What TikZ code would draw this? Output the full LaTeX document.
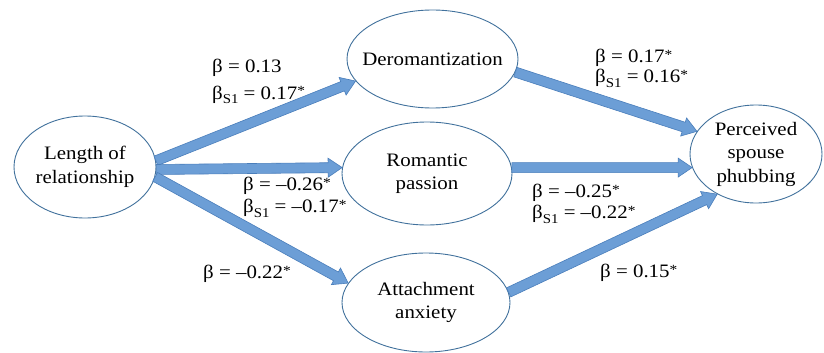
\documentclass[tikz,border=0pt]{standalone}
\usepackage{fontspec}
\setmainfont[FakeStretch=1.1]{Liberation Serif}
\usetikzlibrary{shapes.geometric,calc}
\definecolor{arrowfill}{HTML}{6C9ED6}
\definecolor{arrowline}{HTML}{4A7EBB}
\definecolor{ellline}{HTML}{41719C}
\tikzset{
  ell/.style={draw=ellline, line width=0.9pt, ellipse, inner sep=-20pt, align=center,
    font=\fontsize{19}{23.5}\selectfont},
  lbl/.style={anchor=base west, inner sep=0pt, font=\fontsize{19}{23}\selectfont},
  fatarrowstyle/.style={fill=arrowfill, draw=arrowline, line width=0.6pt, line join=miter}
}
\newcommand\subS{\raisebox{-5pt}{\fontsize{13.5}{13.5}\selectfont S1}}
\newcommand\sig{\raisebox{3pt}{\fontsize{14}{14}\selectfont*}}
\newcommand\fatarrow[2]{%
  \path (#1) coordinate (fa-a) (#2) coordinate (fa-b);
  \path ($(fa-b)!14pt!(fa-a)$) coordinate (fa-h);
  \filldraw[fatarrowstyle] ($(fa-a)!5pt!90:(fa-b)$) -- ($(fa-h)!5pt!90:(fa-b)$)
    -- ($(fa-h)!9.5pt!90:(fa-b)$) -- (fa-b) -- ($(fa-h)!9.5pt!-90:(fa-b)$)
    -- ($(fa-h)!5pt!-90:(fa-b)$) -- ($(fa-a)!5pt!-90:(fa-b)$) -- cycle;
}
\begin{document}
\begin{tikzpicture}[x=1pt, y=-1pt]
\useasboundingbox (0,0) rectangle (824,353);
% ellipses
\node[ell, minimum width=142pt, minimum height=102pt] (lr) at (85,167) {Length of\\relationship};
\node[ell, minimum width=171pt, minimum height=98pt] (dr) at (432.5,59) {Deromantization};
\node[ell, minimum width=170pt, minimum height=103pt] (rp) at (427,173.5) {Romantic\\passion};
\node[ell, minimum width=168pt, minimum height=99pt] (aa) at (426,302.5) {Attachment\\anxiety};
\node[ell, minimum width=132pt, minimum height=98pt] (ps) at (756,154) {Perceived\\spouse\\phubbing};
% arrows
\fatarrow{lr.5}{dr.196}
\fatarrow{lr.-2}{rp.176}
\fatarrow{lr.-8}{aa.166}
\fatarrow{dr.-9}{ps.159}
\fatarrow{rp.4}{ps.192}
\fatarrow{aa.7}{ps.226}
% labels
\node[lbl] (b1) at (212,72) {β = 0.13};
\node[lbl] (b1s) at (212,99) {β\subS{} = 0.17\sig};
\node[lbl] (b2) at (243,190) {β = –0.26\sig};
\node[lbl] (b2s) at (243,212) {β\subS{} = –0.17\sig};
\node[lbl] (b3) at (203,278) {β = –0.22\sig};
\node[lbl] (b4) at (595,63) {β = 0.17\sig};
\node[lbl] (b4s) at (595,82) {β\subS{} = 0.16\sig};
\node[lbl] (b5) at (532,197) {β = –0.25\sig};
\node[lbl] (b5s) at (532,218) {β\subS{} = –0.22\sig};
\node[lbl] (b6) at (600,277) {β = 0.15\sig};
\end{tikzpicture}
\end{document}
